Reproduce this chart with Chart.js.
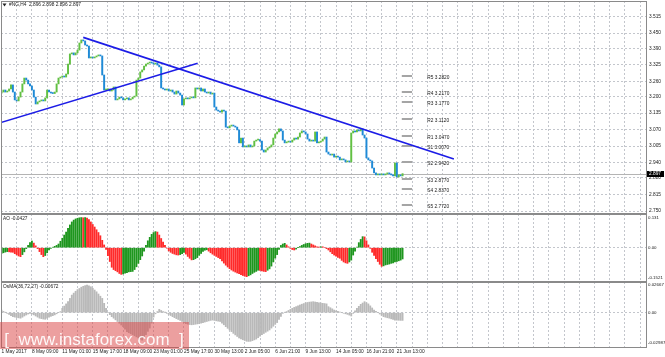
<!DOCTYPE html>
<html>
<head>
<meta charset="utf-8">
<script src="https://cdn.jsdelivr.net/npm/chart.js@4.4.1/dist/chart.umd.min.js"></script>
<style>
  html, body { margin: 0; padding: 0; background: #fff; }
  #wrap { position: relative; width: 665px; height: 357px; overflow: hidden; }
  .pane { position: absolute; left: 0; width: 665px; }
</style>
</head>
<body>
<div id="wrap">
  <div class="pane" style="top:0;height:214px"><canvas id="priceChart"></canvas></div>
  <div class="pane" style="top:214px;height:68px"><canvas id="aoChart"></canvas></div>
  <div class="pane" style="top:282px;height:75px"><canvas id="osmaChart"></canvas></div>
</div>
<script>
// ===== data (#NG, H4) =====
const firstOpen = 3.214;
const closes = [
  3.218, 3.226, 3.218, 3.222, 3.230, 3.246, 3.218, 3.187, 3.183, 3.198,
  3.218, 3.250, 3.273, 3.265, 3.250, 3.242, 3.226, 3.198, 3.171, 3.179,
  3.183, 3.187, 3.183, 3.195, 3.226, 3.218, 3.214, 3.212, 3.218, 3.250,
  3.273, 3.277, 3.281, 3.277, 3.289, 3.328, 3.368, 3.372, 3.364, 3.372,
  3.383, 3.411, 3.423, 3.419, 3.403, 3.399, 3.352, 3.356, 3.352, 3.356,
  3.360, 3.364, 3.360, 3.285, 3.226, 3.227, 3.230, 3.222, 3.226, 3.238,
  3.187, 3.191, 3.198, 3.195, 3.187, 3.191, 3.195, 3.187, 3.191, 3.198,
  3.202, 3.265, 3.273, 3.297, 3.305, 3.320, 3.328, 3.332, 3.336, 3.332,
  3.328, 3.332, 3.324, 3.317, 3.234, 3.230, 3.226, 3.230, 3.222, 3.226,
  3.218, 3.210, 3.222, 3.214, 3.206, 3.167, 3.191, 3.195, 3.191, 3.195,
  3.198, 3.195, 3.234, 3.230, 3.234, 3.222, 3.230, 3.218, 3.214, 3.218,
  3.210, 3.214, 3.159, 3.147, 3.143, 3.139, 3.147, 3.143, 3.080, 3.077,
  3.084, 3.088, 3.084, 3.080, 3.069, 3.018, 3.037, 3.002, 3.006, 3.002,
  3.010, 3.002, 3.006, 3.025, 3.029, 3.031, 3.025, 2.990, 2.982, 2.990,
  2.998, 3.002, 3.010, 3.037, 3.053, 3.061, 3.073, 3.065, 3.029, 3.018,
  3.021, 3.025, 3.021, 3.029, 3.037, 3.033, 3.041, 3.057, 3.065, 3.061,
  3.053, 3.033, 3.025, 3.029, 3.025, 3.061, 3.018, 3.021, 3.025, 3.033,
  3.041, 2.982, 2.974, 2.970, 2.974, 2.962, 2.966, 2.962, 2.951, 2.955,
  2.951, 2.943, 2.947, 2.943, 3.057, 3.065, 3.061, 3.069, 3.065, 3.073,
  3.049, 3.037, 2.959, 2.951, 2.947, 2.919, 2.900, 2.892, 2.896, 2.892,
  2.896, 2.892, 2.896, 2.900, 2.896, 2.892, 2.888, 2.939, 2.884, 2.892,
  2.888, 2.897
];
const aoValues = [
  -0.025, -0.022, -0.019, -0.017, -0.018, -0.019, -0.020, -0.026, -0.031, -0.036,
  -0.039, -0.030, -0.018, -0.004, 0.010, 0.022, 0.029, 0.020, 0.008, -0.004,
  -0.017, -0.030, -0.039, -0.034, -0.022, -0.010, -0.003, 0.002, 0.006, 0.010,
  0.016, 0.028, 0.041, 0.055, 0.068, 0.084, 0.099, 0.112, 0.120, 0.125,
  0.128, 0.130, 0.131, 0.130, 0.131, 0.129, 0.122, 0.112, 0.101, 0.090,
  0.078, 0.066, 0.052, 0.032, 0.012, -0.008, -0.035, -0.060, -0.085, -0.095,
  -0.100, -0.105, -0.112, -0.116, -0.114, -0.111, -0.108, -0.105, -0.104, -0.103,
  -0.095, -0.083, -0.068, -0.052, -0.036, -0.015, 0.010, 0.030, 0.045, 0.058,
  0.066, 0.070, 0.068, 0.055, 0.040, 0.024, 0.010, -0.002, -0.014, -0.020,
  -0.025, -0.028, -0.031, -0.032, -0.030, -0.026, -0.020, -0.028, -0.038, -0.046,
  -0.053, -0.052, -0.048, -0.043, -0.033, -0.025, -0.016, -0.011, -0.009, -0.015,
  -0.022, -0.028, -0.033, -0.038, -0.043, -0.048, -0.058, -0.067, -0.076, -0.084,
  -0.091, -0.097, -0.102, -0.106, -0.110, -0.113, -0.117, -0.121, -0.124, -0.126,
  -0.122, -0.118, -0.112, -0.107, -0.103, -0.098, -0.099, -0.101, -0.103, -0.104,
  -0.098, -0.092, -0.080, -0.062, -0.045, -0.030, -0.008, 0.010, 0.016, 0.019,
  0.012, 0.004, -0.003, -0.008, -0.010, -0.006, 0.000, 0.005, 0.010, 0.014,
  0.017, 0.019, 0.020, 0.016, 0.012, 0.008, 0.004, 0.003, 0.004, 0.004,
  0.000, -0.004, -0.010, -0.018, -0.026, -0.032, -0.037, -0.042, -0.046, -0.055,
  -0.062, -0.066, -0.068, -0.062, -0.054, -0.032, -0.015, 0.002, 0.022, 0.036,
  0.048, 0.047, 0.030, 0.012, -0.003, -0.020, -0.034, -0.048, -0.060, -0.072,
  -0.081, -0.079, -0.075, -0.073, -0.071, -0.068, -0.066, -0.062, -0.060, -0.057,
  -0.054, -0.049
];
const osmaValues = [
  0.0024, 0.0012, 0.0003, -0.0006, -0.0016, -0.0026, -0.0036, -0.0040, -0.0044, -0.0047,
  -0.0050, -0.0041, -0.0030, -0.0021, -0.0012, -0.0006, -0.0012, -0.0020, -0.0030, -0.0040,
  -0.0050, -0.0054, -0.0058, -0.0060, -0.0050, -0.0040, -0.0033, -0.0027, -0.0020, -0.0010,
  0.0000, 0.0010, 0.0040, 0.0060, 0.0080, 0.0100, 0.0130, 0.0160, 0.0178, 0.0195,
  0.0210, 0.0220, 0.0232, 0.0240, 0.0246, 0.0250, 0.0244, 0.0236, 0.0222, 0.0206,
  0.0190, 0.0170, 0.0150, 0.0130, 0.0085, 0.0040, 0.0000, -0.0018, -0.0036, -0.0050,
  -0.0065, -0.0080, -0.0096, -0.0112, -0.0127, -0.0150, -0.0173, -0.0182, -0.0191, -0.0200,
  -0.0210, -0.0220, -0.0230, -0.0240, -0.0250, -0.0225, -0.0200, -0.0170, -0.0140, -0.0095,
  -0.0040, -0.0010, 0.0010, 0.0030, 0.0020, 0.0010, 0.0002, -0.0006, -0.0016, -0.0026,
  -0.0036, -0.0045, -0.0054, -0.0062, -0.0070, -0.0080, -0.0090, -0.0100, -0.0104, -0.0108,
  -0.0110, -0.0108, -0.0105, -0.0102, -0.0100, -0.0095, -0.0090, -0.0085, -0.0080, -0.0075,
  -0.0070, -0.0067, -0.0070, -0.0074, -0.0077, -0.0080, -0.0095, -0.0110, -0.0127, -0.0142,
  -0.0157, -0.0172, -0.0188, -0.0202, -0.0216, -0.0230, -0.0238, -0.0246, -0.0253, -0.0260,
  -0.0261, -0.0260, -0.0254, -0.0247, -0.0240, -0.0227, -0.0213, -0.0200, -0.0189, -0.0178,
  -0.0168, -0.0157, -0.0140, -0.0123, -0.0106, -0.0090, -0.0062, -0.0034, -0.0006, 0.0002,
  0.0010, 0.0020, 0.0030, 0.0040, 0.0048, 0.0055, 0.0063, 0.0070, 0.0077, 0.0083,
  0.0090, 0.0093, 0.0096, 0.0098, 0.0100, 0.0097, 0.0094, 0.0090, 0.0088, 0.0085,
  0.0083, 0.0080, 0.0055, 0.0045, 0.0035, 0.0024, 0.0018, 0.0012, 0.0006, 0.0000,
  -0.0005, -0.0010, -0.0015, -0.0022, -0.0030, -0.0006, 0.0018, 0.0040, 0.0058, 0.0076,
  0.0088, 0.0100, 0.0090, 0.0080, 0.0062, 0.0043, 0.0024, 0.0012, 0.0000, -0.0012,
  -0.0024, -0.0036, -0.0041, -0.0046, -0.0050, -0.0056, -0.0062, -0.0067, -0.0068, -0.0069,
  -0.0070, -0.0070
];

const timeLabels = ['1 May 2017', '8 May 09:00', '11 May 01:00', '15 May 17:00', '18 May 09:00',
  '23 May 01:00', '25 May 17:00', '30 May 13:00', '2 Jun 05:00', '6 Jun 21:00', '9 Jun 13:00',
  '14 Jun 05:00', '16 Jun 21:00', '21 Jun 13:00'];
const priceTicks = [3.515, 3.450, 3.390, 3.325, 3.260, 3.200, 3.135, 3.070, 3.005, 2.940, 2.880, 2.815, 2.750];
const pivotNames = ['R5', 'R4', 'R3', 'R2', 'R1', 'S1', 'S2', 'S3', 'S4', 'S5'];
const pivotValues = [3.2820, 3.2170, 3.1770, 3.1120, 3.0470, 3.0070, 2.9420, 2.8770, 2.8370, 2.7720];
const trendDown = [{ x: 43.0, y: 3.433 }, { x: 238.0, y: 2.955 }];
const trendUp = [{ x: -0.8, y: 3.097 }, { x: 103.2, y: 3.331 }];
const headerText = '#NG,H4  2.896 2.898 2.896 2.897';
const aoTitle = 'AO -0.0427';
const aoAxisText = ['0.131', '0.00', '-0.1521'];
const osmaTitle = 'OsMA(36,72,27) -0.00672';
const osmaAxisText = ['0.02667', '0.00', '-0.02987'];

// ===== look =====
const FONT = 'Liberation Sans';
const TXT = '#1a1a1a';
const gridColor = '#c3c6cc';
const upColor = '#62c043';
const downColor = '#1f8ad6';
const xMin = -0.26, xMax = 339.6;
const gridBars = [];
for (let b = 0; b <= 336; b += 8) gridBars.push(b);

const opens = closes.map((c, i) => i === 0 ? firstOpen : closes[i - 1]);
const candles = closes.map((c, i) => ({ x: i, y: [opens[i], c] }));
const candleColors = closes.map((c, i) => c >= opens[i] ? upColor : downColor);
const aoColors = aoValues.map((v, i) => (i === 0 || v > aoValues[i - 1]) ? '#1e961e' : '#ff2a2a');

function timeAxis(showLabels) {
  return {
    type: 'linear', min: xMin, max: xMax, bounds: 'data', offset: false,
    afterBuildTicks: s => { s.ticks = gridBars.map(v => ({ value: v })); },
    grid: { color: gridColor, drawTicks: false, offset: false },
    border: { display: false, dash: [2, 2] },
    ticks: showLabels ? {
      autoSkip: false, maxRotation: 0, minRotation: 0, align: 'start', padding: 1,
      font: { family: FONT, size: 4.8 }, color: TXT,
      callback: v => (v % 16 === 0 && timeLabels[v / 16]) ? timeLabels[v / 16] : ''
    } : { display: false },
    afterFit: s => { s.height = showLabels ? 9 : 0; s.paddingLeft = 0; s.paddingRight = 0; }
  };
}

function sideAxis(min, max, ticks, showLabels) {
  return {
    type: 'linear', position: 'right', min: min, max: max, bounds: 'data',
    afterBuildTicks: s => { s.ticks = ticks.map(v => ({ value: v })); },
    grid: { color: gridColor, drawTicks: false },
    border: { display: false, dash: [2, 2] },
    ticks: showLabels ? { padding: 2, font: { family: FONT, size: 4.8 }, color: TXT, callback: v => v.toFixed(3) }
                      : { display: false },
    afterFit: s => { s.width = 18; s.paddingTop = 0; s.paddingBottom = 0; }
  };
}

// frame + small texts of each panel
const panelText = {
  id: 'panelText',
  afterDraw(chart, args, opts) {
    const { ctx, chartArea: a } = chart;
    ctx.save();
    ctx.strokeStyle = '#8a8a8a';
    ctx.lineWidth = 1;
    ctx.strokeRect(a.left + 0.5, a.top + 0.5, a.right - a.left - 1, a.bottom - a.top - 1);
    ctx.font = '4.8px "' + FONT + '"';
    ctx.fillStyle = TXT;
    ctx.textBaseline = 'middle';
    if (opts.title) ctx.fillText(opts.title, a.left + 2, a.top + 5);
    if (opts.axisText) {
      const y = chart.scales.y;
      ctx.font = '4.4px "' + FONT + '"';
      ctx.fillText(opts.axisText[0], a.right + 1, a.top + opts.edge[0]);
      ctx.fillText(opts.axisText[1], a.right + 1, y.getPixelForValue(0));
      ctx.fillText(opts.axisText[2], a.right + 1, a.bottom - opts.edge[1]);
    }
    ctx.restore();
  }
};

// pivots, price line, price box, header
const priceExtras = {
  id: 'priceExtras',
  beforeDatasetsDraw(chart) {
    const { ctx, chartArea: a, scales: { x, y } } = chart;
    ctx.save();
    const py = Math.round(y.getPixelForValue(closes[closes.length - 1])) + 0.5;
    ctx.strokeStyle = '#b4b4b4';
    ctx.lineWidth = 1;
    ctx.beginPath(); ctx.moveTo(a.left, py); ctx.lineTo(a.right, py); ctx.stroke();
    ctx.strokeStyle = '#a5a5a5';
    ctx.lineWidth = 2;
    ctx.font = '4.8px "' + FONT + '"';
    ctx.fillStyle = TXT;
    ctx.textBaseline = 'middle';
    pivotValues.forEach((v, i) => {
      const yy = Math.round(y.getPixelForValue(v));
      ctx.beginPath(); ctx.moveTo(x.getPixelForValue(210.6), yy); ctx.lineTo(x.getPixelForValue(216), yy); ctx.stroke();
      ctx.fillText(pivotNames[i] + ' ' + v.toFixed(4), x.getPixelForValue(224), yy + 2);
    });
    ctx.restore();
  },
  afterDraw(chart) {
    const { ctx, chartArea: a, scales: { y } } = chart;
    ctx.save();
    // header
    ctx.fillStyle = '#222';
    ctx.beginPath(); ctx.moveTo(a.left + 1.5, a.top + 2.5); ctx.lineTo(a.left + 5.5, a.top + 2.5); ctx.lineTo(a.left + 3.5, a.top + 5.5); ctx.closePath(); ctx.fill();
    ctx.font = '4.8px "' + FONT + '"';
    ctx.fillStyle = TXT;
    ctx.textBaseline = 'middle';
    ctx.fillText(headerText, a.left + 8, a.top + 4);
    // current price box
    const last = closes[closes.length - 1];
    const py = Math.round(y.getPixelForValue(last));
    ctx.fillStyle = '#000';
    ctx.fillRect(a.right, py - 3, 17, 6);
    ctx.fillStyle = '#fff';
    ctx.fillText(last.toFixed(3), a.right + 2, py);
    ctx.restore();
  }
};

// instaforex watermark
const watermark = {
  id: 'watermark',
  afterDraw(chart) {
    const { ctx } = chart;
    ctx.save();
    ctx.fillStyle = 'rgba(218, 70, 70, 0.52)';
    ctx.fillRect(0, 40, 189, 27);
    ctx.fillStyle = 'rgba(255, 255, 255, 0.92)';
    ctx.font = '17px "' + FONT + '"';
    ctx.textAlign = 'center';
    ctx.textBaseline = 'alphabetic';
    ctx.fillText('[  www.instaforex.com  ]', 94, 63);
    ctx.restore();
  }
};

const common = {
  responsive: true,
  maintainAspectRatio: false,
  animation: false,
  events: [],
  plugins: { legend: { display: false }, tooltip: { enabled: false } }
};

// 1️⃣ price panel
new Chart(document.getElementById('priceChart'), {
  type: 'bar',
  data: {
    datasets: [
      { type: 'line', data: trendDown, borderColor: '#1c1ce6', borderWidth: 1.6, pointRadius: 0, order: 0 },
      { type: 'line', data: trendUp, borderColor: '#1c1ce6', borderWidth: 1.6, pointRadius: 0, order: 0 },
      { data: candles, backgroundColor: candleColors, barThickness: 1.3, minBarLength: 1, order: 1 }
    ]
  },
  options: Object.assign({}, common, {
    layout: { padding: { top: 1, left: 1, right: 0, bottom: 0 } },
    scales: { x: timeAxis(false), y: sideAxis(2.7382, 3.5761, priceTicks, true) }
  }),
  plugins: [priceExtras, panelText]
});

// 2️⃣ AO panel
new Chart(document.getElementById('aoChart'), {
  type: 'bar',
  data: {
    datasets: [{ data: aoValues.map((v, i) => ({ x: i, y: v })), backgroundColor: aoColors, barThickness: 1.2 }]
  },
  options: Object.assign({}, common, {
    layout: { padding: { top: 0, left: 1, right: 0, bottom: 0 } },
    scales: { x: timeAxis(false), y: sideAxis(-0.1491, 0.1465, [0], false) },
    plugins: Object.assign({}, common.plugins, { panelText: { title: aoTitle, axisText: aoAxisText, edge: [4, 4] } })
  }),
  plugins: [panelText]
});

// 3️⃣ OsMA panel
new Chart(document.getElementById('osmaChart'), {
  type: 'bar',
  data: {
    datasets: [{ data: osmaValues.map((v, i) => ({ x: i, y: v })), backgroundColor: '#b9b9b9', barThickness: 1.2 }]
  },
  options: Object.assign({}, common, {
    layout: { padding: { top: 0, left: 1, right: 0, bottom: 0 } },
    scales: { x: timeAxis(true), y: sideAxis(-0.0321, 0.0279, [0], false) },
    plugins: Object.assign({}, common.plugins, { panelText: { title: osmaTitle, axisText: osmaAxisText, edge: [3, 5] } })
  }),
  plugins: [panelText, watermark]
});
</script>
</body>
</html>
